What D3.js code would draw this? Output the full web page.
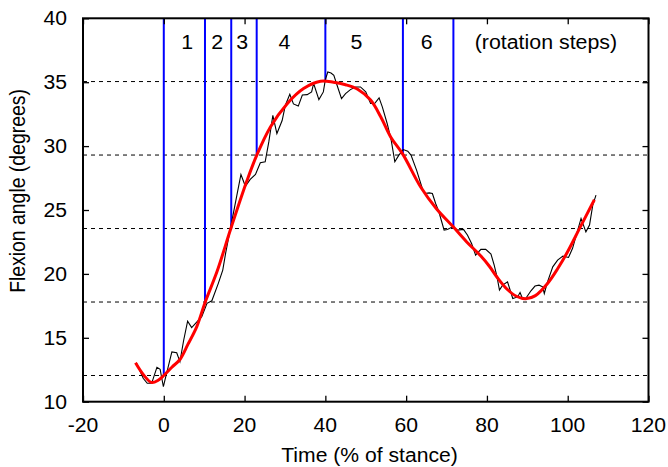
<!DOCTYPE html>
<html><head><meta charset="utf-8">
<script src="https://cdn.jsdelivr.net/npm/d3@7"></script>
<style>body{margin:0;background:#fff;} svg{display:block;font-family:"Liberation Sans",Arial,sans-serif;}</style>
</head><body><svg id="c" width="668" height="467"></svg>
<script>
const xTicks = [-20,0,20,40,60,80,100,120];
const yTicks = [10,15,20,25,30,35,40];
const levels = [12.05,17.8,23.55,29.3,35.05];
const stepX = [0,10.2,16.7,23.0,40.0,59.2,71.7];
const stepTop = [12.05,17.8,23.55,29.3,35.05,29.3,23.55];
const stepLabels = ["1","2","3","4","5","6","(rotation steps)"];
const stepLabelX = [5.8,13.2,19.4,29.9,47.7,65.1,94.6];
const rawX = [-6.8,-5.1,-4.1,-3.0,-1.7,-0.9,-0.1,0.3,2.0,3.2,4.0,4.9,5.9,6.9,8.2,9.4,10.7,11.9,13.5,14.6,15.3,16.9,18.1,19.1,20.2,21.4,22.7,23.9,25.1,26.0,27.0,28.0,29.3,30.1,31.2,32.1,33.3,34.3,35.5,36.6,37.1,38.4,39.5,40.0,40.6,41.4,42.1,42.9,44.0,45.0,46.2,47.5,48.7,50.0,51.2,52.2,53.3,54.1,55.3,56.3,57.2,58.2,59.3,60.4,61.2,62.6,64.0,64.6,65.7,66.5,67.3,68.1,68.7,69.4,70.2,71.5,72.7,74.2,75.2,76.2,77.2,78.5,79.7,81.0,81.8,82.5,83.1,83.9,85.1,86.4,87.6,88.2,88.8,89.6,90.9,91.9,92.9,93.8,94.2,95.0,96.3,97.5,98.8,100.2,101.2,102.0,103.3,104.5,105.4,106.2,107.0];
const rawY = [13.05,11.83,11.44,11.44,12.69,12.53,11.17,11.7,13.9,13.83,13.13,14.77,16.3,15.8,16.25,16.65,17.7,17.9,19.26,20.3,21.6,24.2,26.16,27.78,26.86,27.4,27.78,28.7,28.77,30.33,32.4,30.98,32.0,33.2,34.05,33.3,33.13,34.0,34.03,34.24,34.9,33.64,34.24,35.2,35.8,35.72,35.54,34.76,33.72,34.1,34.42,34.63,34.63,34.24,33.33,33.33,33.77,33.07,31.77,30.46,28.77,29.29,29.73,29.6,29.3,28.1,26.68,26.29,26.34,26.29,25.51,24.86,24.2,23.43,23.48,23.68,23.43,23.48,23.03,22.38,21.47,21.92,21.92,21.55,20.69,19.77,18.73,19.12,19.38,18.08,18.2,18.55,18.08,18.08,18.68,19.05,19.12,18.99,18.47,19.38,20.55,21.08,21.39,21.29,22.0,22.9,24.34,23.29,23.82,25.38,26.16];
const fitX = [-7,-5,-3,-1.3,0,2,4,6,8.2,10.2,13.2,16.6,20.6,23.1,26.4,30.5,34.6,38.8,42,45,48,51.2,53.7,56.2,59.2,63.6,67.5,71.6,75,78.5,80.6,82.6,85,87.3,89.6,92,95,97.5,100,103,106.6];
const fitY = [13.05,12.1,11.5,11.7,12.05,12.7,13.3,14.5,15.9,17.75,20.2,23.55,27.3,29.35,31.5,33.3,34.5,35.07,35.0,34.8,34.45,33.6,32.3,30.7,29.35,26.8,25.1,23.7,22.5,21.4,20.6,19.7,18.8,18.25,18.05,18.3,19.25,20.4,21.75,23.6,25.8];

const svg = d3.select("#c");
const x = d3.scaleLinear().domain([-20,120]).range([83,648.5]);
const y = d3.scaleLinear().domain([10,40]).range([401.7,18.3]);
const L = x.range()[0], R = x.range()[1], T = y.range()[1], B = y.range()[0];
const SX = 1.09;
const FS = 19.4;

function label(g, px, py, txt, size, anchor){
  return g.append("text")
    .attr("transform",`translate(${px},${py}) scale(${SX},1)`)
    .attr("text-anchor",anchor)
    .attr("font-size",size).attr("fill","#000").text(txt);
}

// dashed levels
svg.append("g").selectAll("line").data(levels).join("line")
  .attr("x1",L).attr("x2",R).attr("y1",d=>y(d)).attr("y2",d=>y(d))
  .attr("stroke","#000").attr("stroke-width",1).attr("stroke-dasharray","4,4");

// blue step lines
svg.append("g").selectAll("line").data(stepX).join("line")
  .attr("x1",d=>x(d)).attr("x2",d=>x(d)).attr("y1",T).attr("y2",(d,i)=>y(stepTop[i]))
  .attr("stroke","#0000ff").attr("stroke-width",2);

// raw line
const line = d3.line().x(d=>x(d[0])).y(d=>y(d[1]));
svg.append("path").datum(rawX.map((v,i)=>[v,rawY[i]]))
  .attr("d",line).attr("fill","none").attr("stroke","#000").attr("stroke-width",1.1);

// fit line
svg.append("path").datum(fitX.map((v,i)=>[v,fitY[i]]))
  .attr("d",line.curve(d3.curveCatmullRom)).attr("fill","none").attr("stroke","#ff0000").attr("stroke-width",3);

// ticks (inward on all four sides)
const ax = svg.append("g");
const tl = 6;
ax.append("g").attr("transform",`translate(0,${B})`).call(d3.axisBottom(x).tickValues(xTicks).tickSizeInner(-tl).tickSizeOuter(0).tickFormat(""));
ax.append("g").attr("transform",`translate(0,${T})`).call(d3.axisTop(x).tickValues(xTicks).tickSizeInner(-tl).tickSizeOuter(0).tickFormat(""));
ax.append("g").attr("transform",`translate(${L},0)`).call(d3.axisLeft(y).tickValues(yTicks).tickSizeInner(-tl).tickSizeOuter(0).tickFormat(""));
ax.append("g").attr("transform",`translate(${R},0)`).call(d3.axisRight(y).tickValues(yTicks).tickSizeInner(-tl).tickSizeOuter(0).tickFormat(""));
ax.selectAll(".domain").remove();
ax.selectAll(".tick line").attr("stroke","#000").attr("stroke-width",1.3);
ax.selectAll(".tick text").remove();
svg.append("rect").attr("x",L).attr("y",T).attr("width",R-L).attr("height",B-T)
  .attr("fill","none").attr("stroke","#000").attr("stroke-width",2);

// tick labels
const tg = svg.append("g");
xTicks.forEach(v=>label(tg, x(v), 432, String(v), FS, "middle"));
yTicks.forEach(v=>label(tg, 67, y(v)+7, String(v), FS, "end"));

// step labels
const sg = svg.append("g");
stepLabels.forEach((t,i)=>label(sg, x(stepLabelX[i]), 49, t, 19.6, "middle"));

// axis titles
label(svg, 369.5, 462, "Time (% of stance)", FS, "middle");
svg.append("text").attr("transform",`translate(25,191) rotate(-90) scale(1,${SX})`)
  .attr("text-anchor","middle").attr("font-size",FS).attr("fill","#000").text("Flexion angle (degrees)");
</script></body></html>
